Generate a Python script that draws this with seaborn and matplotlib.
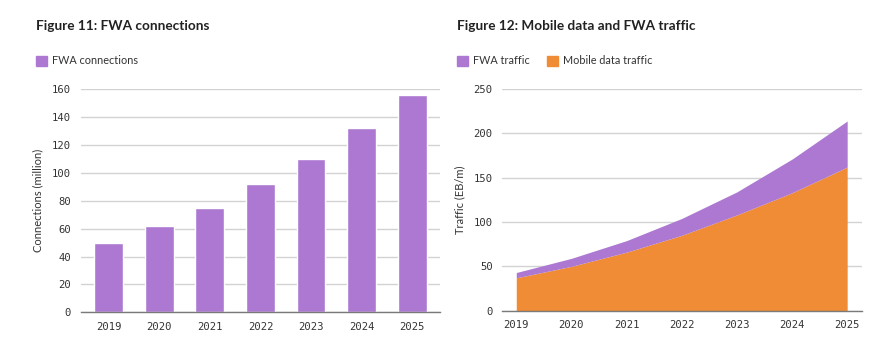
import matplotlib
matplotlib.use("Agg")
import matplotlib.pyplot as plt
import seaborn as sns
import pandas as pd
from matplotlib.patches import Patch

years = ["2019", "2020", "2021", "2022", "2023", "2024", "2025"]
fwa_connections = [50, 62, 75, 92, 110, 132, 156]
mobile_traffic = [37, 50, 66, 85, 108, 133, 162]
fwa_traffic = [6, 9, 13, 19, 26, 38, 52]

PURPLE = "#AC78D1"
ORANGE = "#F08B36"
GRID = "#D2D2D2"
BASE = "#7A7A7A"
TEXT = "#333333"

sns.set_theme(style="white")
plt.rcParams["font.family"] = ["Lato", "DejaVu Sans"]

fig = plt.figure(figsize=(8.8, 3.44), dpi=100)
ax1 = fig.add_axes([0.092, 0.092, 0.408, 0.649])
ax2 = fig.add_axes([0.571, 0.097, 0.408, 0.644])


def style_axis(ax):
    for s in ("top", "right", "left"):
        ax.spines[s].set_visible(False)
    ax.spines["bottom"].set_color(BASE)
    ax.spines["bottom"].set_linewidth(1.0)
    ax.yaxis.grid(True, color=GRID, linewidth=1.0)
    ax.set_axisbelow(True)
    ax.tick_params(axis="both", length=0, colors=TEXT, labelsize=7.6,
                   labelfontfamily="DejaVu Sans Mono")
    ax.tick_params(axis="y", pad=7)
    ax.tick_params(axis="x", pad=7)


# Figure 11: FWA connections (bars)
df1 = pd.DataFrame({"year": years, "connections": fwa_connections})
sns.barplot(data=df1, x="year", y="connections", color=PURPLE, saturation=1,
            width=0.57, ax=ax1)
ax1.set_xlim(-0.55, 6.55)
ax1.set_ylim(0, 160)
ax1.set_yticks(range(0, 161, 20))
ax1.set_xlabel("")
ax1.set_ylabel("Connections (million)", fontsize=8, color=TEXT, labelpad=6)
style_axis(ax1)

# Figure 12: stacked area of mobile data and FWA traffic
df2 = pd.DataFrame({"year": [int(y) for y in years],
                    "mobile": mobile_traffic, "fwa": fwa_traffic})
df2["total"] = df2["mobile"] + df2["fwa"]
ax2.fill_between(df2["year"], 0, df2["mobile"], color=ORANGE, linewidth=0)
ax2.fill_between(df2["year"], df2["mobile"], df2["total"], color=PURPLE,
                 linewidth=0)
ax2.set_xlim(2018.75, 2025.26)
ax2.set_ylim(0, 250)
ax2.set_yticks(range(0, 251, 50))
ax2.set_xticks(df2["year"])
ax2.set_xticklabels(years)
ax2.set_xlabel("")
ax2.set_ylabel("Traffic (EB/m)", fontsize=8, color=TEXT, labelpad=6)
style_axis(ax2)

# Titles
fig.text(0.041, 0.925, "Figure 11: FWA connections", fontsize=9.8,
         fontweight="bold", color="#222222", va="center", ha="left")
fig.text(0.519, 0.925, "Figure 12: Mobile data and FWA traffic", fontsize=9.8,
         fontweight="bold", color="#222222", va="center", ha="left")

# Legends
leg_kw = dict(frameon=False, fontsize=7.8, handlelength=1.0, handleheight=1.0,
              handletextpad=0.5, borderpad=0, borderaxespad=0,
              columnspacing=1.6, labelcolor=TEXT)
fig.legend(handles=[Patch(color=PURPLE, label="FWA connections")],
           loc="center left", bbox_to_anchor=(0.041, 0.823), **leg_kw)
fig.legend(handles=[Patch(color=PURPLE, label="FWA traffic"),
                    Patch(color=ORANGE, label="Mobile data traffic")],
           loc="center left", bbox_to_anchor=(0.519, 0.823), ncol=2, **leg_kw)

fig.savefig("out.png", dpi=100, facecolor="white")
